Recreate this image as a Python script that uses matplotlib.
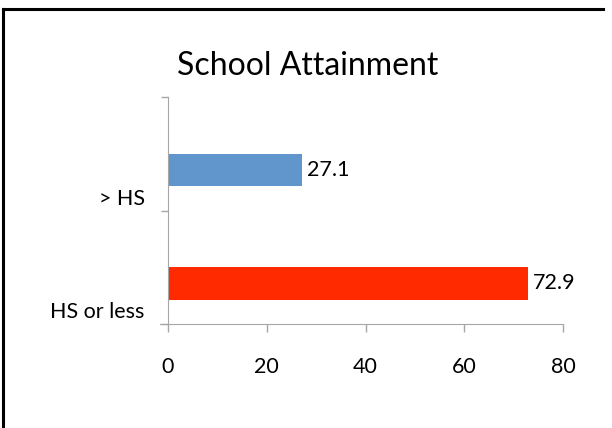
import matplotlib
matplotlib.use("Agg")
import matplotlib.pyplot as plt
from matplotlib.lines import Line2D

# chart data
categories = ["HS or less", "> HS"]
values = [72.9, 27.1]
bar_colors = ["#FF2A00", "#6096CB"]
x_ticks = [0, 20, 40, 60, 80]

plt.rcParams["font.family"] = ["Lato", "DejaVu Sans"]
FS = 15.5

fig = plt.figure(figsize=(6.12, 4.28), dpi=100)
ax = fig.add_axes([168 / 612, 1 - 324 / 428, (563 - 168) / 612, (324 - 97) / 428])

pos = list(range(len(categories)))
bar_off = -0.143
ax.barh([p + bar_off for p in pos], values, height=0.29, color=bar_colors)

for p, v in zip(pos, values):
    ax.text(v + 1.0, p + bar_off, f"{v:.1f}", va="center", ha="left", fontsize=FS)

ax.set_xlim(0, 80)
ax.set_ylim(-0.5, len(categories) - 0.5)
ax.set_xticks(x_ticks)
ax.set_xticklabels([str(t) for t in x_ticks], fontsize=FS)

# category labels sit low in each band, boundaries carry the tick marks
ax.set_yticks([p - 0.5 for p in pos] + [len(categories) - 0.5])
ax.set_yticklabels([])
ax.tick_params(axis="y", length=5, color="#A6A6A6", width=1)
for p, c in zip(pos, categories):
    ax.text(-4.7, p - 0.45, c, ha="right", va="baseline", fontsize=FS)

ax.tick_params(axis="x", length=6, color="#A6A6A6", width=1, pad=17.5)

for side in ["top", "right"]:
    ax.spines[side].set_visible(False)
for side in ["left", "bottom"]:
    ax.spines[side].set_color("#A6A6A6")
ax.spines["bottom"].set_bounds(-1.6, 80)

fig.text(308 / 612, 1 - 75 / 428, "School Attainment", ha="center", va="baseline", fontsize=23)

# outer chart frame
fig.add_artist(Line2D([2.5 / 612, 2.5 / 612], [0, 1 - 8.5 / 428], color="black", lw=2.2,
                      transform=fig.transFigure))
fig.add_artist(Line2D([2.5 / 612, 603 / 612], [1 - 8.5 / 428, 1 - 8.5 / 428], color="black",
                      lw=2.2, transform=fig.transFigure))

fig.savefig("out.png", dpi=100)
